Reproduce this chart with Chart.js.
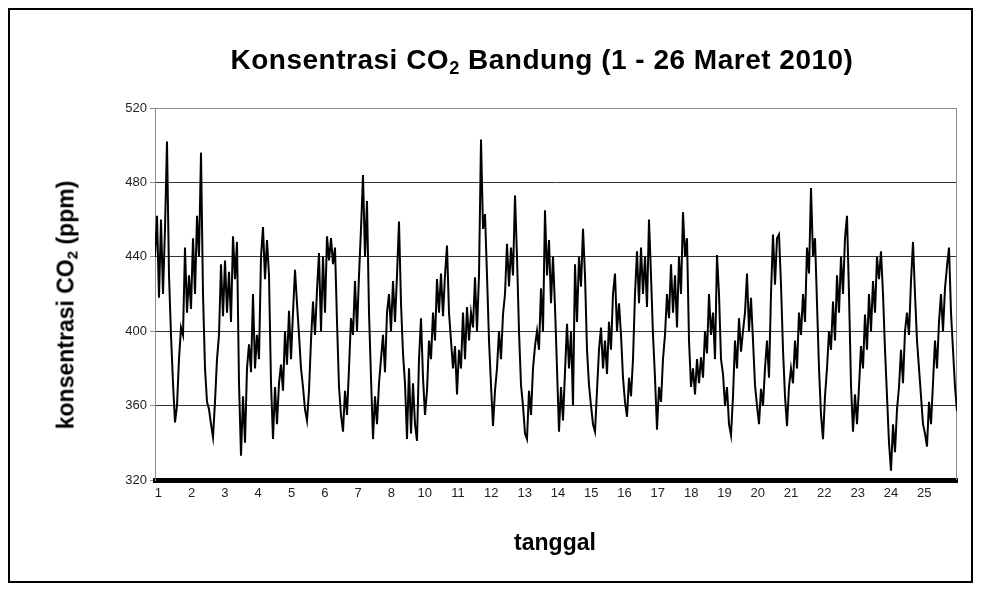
<!DOCTYPE html>
<html>
<head>
<meta charset="utf-8">
<script src="https://cdn.jsdelivr.net/npm/chart.js@4.4.1/dist/chart.umd.min.js"></script>
<style>
  body { margin: 0; background: #fff; font-family: "Liberation Sans", Arial, sans-serif; }
  #wrap { position: relative; width: 981px; height: 592px; }
  #frame { position: absolute; left: 8px; top: 8px; width: 961px; height: 571px; border: 2px solid #000; }
  #title { position: absolute; left: 0; width: 1084px; top: 44px; line-height: 32px; text-align: center; font-weight: bold; font-size: 28px; letter-spacing: 0.5px; }
  #ytitle { position: absolute; left: 66px; top: 305px; transform: translate(-50%, -50%) rotate(-90deg); white-space: nowrap; font-weight: bold; font-size: 23px; }
  #xtitle { position: absolute; left: 555px; top: 542px; transform: translate(-50%, -50%); font-weight: bold; font-size: 23px; }
  sub { font-size: 65%; vertical-align: -0.25em; line-height: 0; }
  canvas { position: absolute; left: 0; top: 0; }
</style>
</head>
<body>
<div id="wrap">
  <div id="frame"></div>
  <canvas id="co2Chart" width="981" height="592"></canvas>
  <div id="title">Konsentrasi CO<sub>2</sub> Bandung (1 - 26 Maret 2010)</div>
  <div id="ytitle">konsentrasi CO<sub>2</sub> (ppm)</div>
  <div id="xtitle">tanggal</div>
</div>
<script>
// DATA
const dayLabels = ["1", "2", "3", "4", "5", "6", "7", "8", "10", "11", "12", "13",
    "14", "15", "16", "17", "18", "19", "20", "21", "22", "23", "24", "25"];
const yTicks = [320, 360, 400, 440, 480, 520];
// ppm at even steps (about 16.65 readings per day)
const co2 = [
    440, 462, 418, 460, 420, 455, 502, 430, 398, 372,
    351, 360, 385, 402, 398, 445, 410, 430, 412, 450,
    420, 462, 440, 496, 420, 380, 362, 358, 350, 343,
    362, 385, 398, 436, 408, 438, 410, 432, 405, 451,
    428, 448, 372, 333, 365, 340, 380, 393, 378, 420,
    380, 398, 385, 440, 456, 428, 449, 430, 372, 342,
    370, 350, 372, 382, 368, 400, 382, 411, 385, 410,
    433, 415, 398, 380, 370, 358, 352, 368, 395, 416,
    398, 422, 442, 400, 440, 410, 451, 438, 450, 436,
    445, 405, 370, 355, 346, 368, 355, 380, 407, 398,
    427, 400, 430, 455, 484, 440, 470, 410, 375, 342,
    365, 350, 372, 385, 398, 378, 410, 420, 400, 427,
    405, 430, 459, 415, 388, 372, 342, 380, 345, 372,
    350, 341, 385, 407, 375, 355, 368, 395, 385, 410,
    395, 428, 410, 431, 408, 430, 446, 410, 395, 380,
    392, 366, 390, 380, 410, 385, 413, 395, 410, 402,
    429, 400, 430, 503, 455, 463, 430, 395, 371, 349,
    368, 380, 400, 385, 409, 420, 447, 424, 445, 430,
    473, 440, 400, 371, 360, 345, 342, 368, 355, 380,
    392, 400, 390, 423, 400, 465, 430, 449, 415, 440,
    413, 380, 346, 370, 352, 378, 404, 380, 400, 360,
    436, 405, 440, 424, 455, 430, 390, 371, 360, 350,
    346, 368, 390, 402, 380, 395, 377, 405, 390, 420,
    431, 400, 415, 398, 375, 362, 354, 375, 365, 385,
    420, 443, 415, 445, 420, 440, 413, 460, 430, 398,
    375, 347, 370, 362, 385, 398, 420, 407, 436, 410,
    430, 402, 440, 420, 464, 440, 450, 395, 370, 380,
    366, 385, 372, 386, 375, 400, 388, 420, 398, 410,
    385, 441, 420, 385, 377, 360, 370, 350, 344, 365,
    395, 380, 407, 389, 400, 410, 431, 400, 418, 395,
    371, 360, 350, 369, 360, 380, 395, 375, 420, 452,
    425, 450, 452, 425, 390, 365, 349, 370, 380, 372,
    395, 380, 410, 398, 420, 405, 445, 431, 477, 440,
    450, 415, 380, 355, 342, 365, 380, 400, 390, 416,
    395, 430, 410, 440, 420, 450, 462, 420, 371, 346,
    366, 350, 370, 392, 380, 409, 390, 420, 400, 427,
    410, 440, 428, 443, 420, 390, 365, 340, 325, 350,
    335, 358, 370, 390, 372, 400, 410, 398, 427, 448,
    420, 395, 380, 365, 350, 345, 338, 362, 350, 372,
    395, 380, 405, 420, 400, 423, 435, 445, 410, 390,
    370, 357
];
const perDay = 16.65;
const labelShift = 0.1; // first day label sits a little after the first reading

const points = co2.map((v, i) => ({ x: i / perDay, y: v }));

// grey frame round the plot area
const plotFrame = {
    id: "plotFrame",
    beforeDatasetsDraw(chart) {
        const a = chart.chartArea, ctx = chart.ctx;
        ctx.save();
        ctx.strokeStyle = "#8c8c8c";
        ctx.lineWidth = 1;
        ctx.beginPath();
        ctx.moveTo(a.left + 0.5, a.bottom);
        ctx.lineTo(a.left + 0.5, a.top + 0.5);
        ctx.lineTo(a.right - 0.5, a.top + 0.5);
        ctx.lineTo(a.right - 0.5, a.bottom);
        ctx.stroke();
        ctx.restore();
    }
};

new Chart(document.getElementById("co2Chart"), {
    type: "line",
    data: {
        datasets: [{
            data: points,
            borderColor: "#000",
            borderWidth: 2,
            pointRadius: 0,
            tension: 0,
            fill: false
        }]
    },
    options: {
        responsive: false,
        animation: false,
        events: [],
        layout: { padding: { left: 105, top: 108, right: 24, bottom: 0 } },
        plugins: { legend: { display: false }, title: { display: false }, tooltip: { enabled: false } },
        scales: {
            x: {
                type: "linear",
                min: 0,
                max: (co2.length - 1) / perDay,
                afterFit: s => { s.height = 112; },
                afterBuildTicks: s => { s.ticks = dayLabels.map((d, k) => ({ value: k + labelShift })); },
                grid: { display: false, drawTicks: false },
                border: { color: "#000", width: 5 },
                ticks: {
                    autoSkip: false,
                    maxRotation: 0,
                    padding: 6,
                    color: "#222",
                    font: { family: "Liberation Sans", size: 13 },
                    callback: (v, k) => dayLabels[k]
                }
            },
            y: {
                min: 320,
                max: 520,
                afterFit: s => { s.width = 50; },
                afterBuildTicks: s => { s.ticks = yTicks.map(v => ({ value: v })); },
                grid: {
                    color: c => (c.tick.value === 520 ? "#8c8c8c" : "#333"),
                    lineWidth: 1,
                    tickLength: 5,
                    tickColor: "#8c8c8c"
                },
                border: { color: "#8c8c8c", width: 1 },
                ticks: {
                    padding: 3,
                    color: "#222",
                    font: { family: "Liberation Sans", size: 13 }
                }
            }
        }
    },
    plugins: [plotFrame]
});
</script>
</body>
</html>
